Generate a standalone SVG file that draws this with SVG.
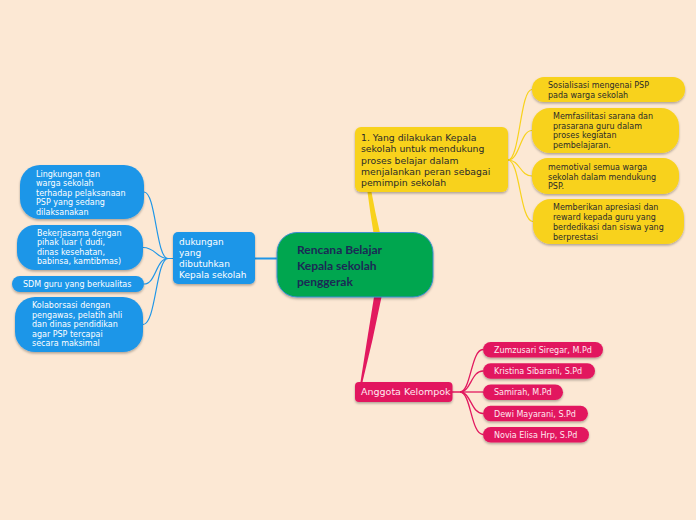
<svg xmlns="http://www.w3.org/2000/svg" width="696" height="520" viewBox="0 0 696 520">
<defs>
<filter id="sh" x="-10%" y="-20%" width="120%" height="150%">
<feDropShadow dx="0" dy="1.5" stdDeviation="1" flood-color="#000" flood-opacity="0.3"/>
</filter>
<style>
.y{fill:#F8D21C;filter:url(#sh)}
.b{fill:#1E96E8;filter:url(#sh)}
.p{fill:#E2195F;filter:url(#sh)}
.ty{font-family:"DejaVu Sans",sans-serif;fill:#2a2a2a}
.tb{font-family:"DejaVu Sans",sans-serif;fill:#ffffff}
.tp{font-family:"DejaVu Sans",sans-serif;fill:#ffe8f0}
.s8{font-size:8px}
.s9{font-size:9px}
.ly{fill:none;stroke:#F8D21C;stroke-width:1.2}
.lb{fill:none;stroke:#1E96E8;stroke-width:1.2}
.lp{fill:none;stroke:#E2195F;stroke-width:1.3}
</style>
</defs>
<rect width="696" height="520" fill="#FCE8D4"/>
<g id="connectors">
<path d="M367.5 192 L371.5 192 Q375 212 380 233 L373.5 233 Q370 212 367.5 192 Z" fill="#F8D21C"/>
<path d="M374 297 L381.5 297 Q373 340 362.5 382 L360.5 382 Q367 340 374 297 Z" fill="#E2195F"/>
<path d="M255 258.5 L278 258.5" fill="none" stroke="#1E96E8" stroke-width="2"/>
<path class="ly" d="M508 160 C520 160 520 89.5 532 89.5"/>
<path class="ly" d="M508 160 C520 160 520 130.5 532 130.5"/>
<path class="ly" d="M508 160 C520 160 520 176 532 176"/>
<path class="ly" d="M508 160 C520 160 520 221.5 533 221.5"/>
<path class="lb" d="M173 258.5 L168 258.5 C156 258.5 156 192 144 192"/>
<path class="lb" d="M168 258.5 C156 258.5 156 247.5 143 247.5"/>
<path class="lb" d="M168 258.5 C156 258.5 156 284 144 284"/>
<path class="lb" d="M168 258.5 C156 258.5 156 324.5 143 324.5"/>
<path class="lp" d="M452 392 L460 392 C471 392 471 349.5 483 349.5"/>
<path class="lp" d="M460 392 C471 392 471 371 483 371"/>
<path class="lp" d="M460 392 L483 392"/>
<path class="lp" d="M460 392 C471 392 471 413.5 483 413.5"/>
<path class="lp" d="M460 392 C471 392 471 434.5 483 434.5"/>
</g>
<g id="center">
<rect x="277" y="232.5" width="156" height="64.5" rx="20" fill="#00A650" stroke="#3b8fd0" stroke-width="1" filter="url(#sh)"/>
<text font-family="Lato,'Liberation Sans',sans-serif" font-size="12" font-weight="bold" fill="#1b2a55"><tspan x="297" y="254">Rencana Belajar</tspan><tspan x="297" y="270">Kepala sekolah</tspan><tspan x="297" y="285.5">penggerak</tspan></text>
</g>
<g id="yellow-main">
<rect class="y" x="355" y="127" width="153" height="65" rx="6"/>
<text class="ty" font-size="9.3"><tspan x="361" y="141">1. Yang dilakukan Kepala</tspan><tspan x="361" y="152.3">sekolah untuk mendukung</tspan><tspan x="361" y="163.6">proses belajar dalam</tspan><tspan x="361" y="174.9">menjalankan peran sebagai</tspan><tspan x="361" y="186.2">pemimpin sekolah</tspan></text>
</g>
<g id="yellow-1">
<rect class="y" x="532" y="77" width="153" height="25" rx="12"/>
<text class="ty s8"><tspan x="548" y="88.3">Sosialisasi mengenai PSP</tspan><tspan x="548" y="97.6">pada warga sekolah</tspan></text>
</g>
<g id="yellow-2">
<rect class="y" x="532" y="108" width="147" height="45" rx="18"/>
<text class="ty s8"><tspan x="553" y="119">Memfasilitasi sarana dan</tspan><tspan x="553" y="128.6">prasarana guru dalam</tspan><tspan x="553" y="138">proses kegiatan</tspan><tspan x="553" y="147.8">pembelajaran.</tspan></text>
</g>
<g id="yellow-3">
<rect class="y" x="532" y="158" width="147" height="36" rx="16"/>
<text class="ty s8"><tspan x="548" y="170">memotival semua warga</tspan><tspan x="548" y="179.5">sekolah dalam mendukung</tspan><tspan x="548" y="189">PSP.</tspan></text>
</g>
<g id="yellow-4">
<rect class="y" x="533" y="199" width="151" height="45" rx="18"/>
<text class="ty s8"><tspan x="553" y="210">Memberikan apresiasi dan</tspan><tspan x="553" y="220.2">reward kepada guru yang</tspan><tspan x="553" y="230.4">berdedikasi dan siswa yang</tspan><tspan x="553" y="240.4">berprestasi</tspan></text>
</g>
<g id="blue-main">
<rect class="b" x="173" y="232" width="82" height="52" rx="5"/>
<text class="tb s9"><tspan x="179" y="245">dukungan</tspan><tspan x="179" y="256.2">yang</tspan><tspan x="179" y="267.4">dibutuhkan</tspan><tspan x="179" y="278.4">Kepala sekolah</tspan></text>
</g>
<g id="blue-1">
<rect class="b" x="20" y="165" width="124" height="54" rx="20"/>
<text class="tb s8"><tspan x="36" y="176.5">Lingkungan dan</tspan><tspan x="36" y="186">warga sekolah</tspan><tspan x="36" y="195.5">terhadap pelaksanaan</tspan><tspan x="36" y="205">PSP yang sedang</tspan><tspan x="36" y="214.5">dilaksanakan</tspan></text>
</g>
<g id="blue-2">
<rect class="b" x="17" y="225" width="126" height="45" rx="18"/>
<text class="tb s8"><tspan x="37" y="236">Bekerjasama dengan</tspan><tspan x="37" y="245.3">pihak luar ( dudi,</tspan><tspan x="37" y="254.6">dinas kesehatan,</tspan><tspan x="37" y="264">babinsa, kamtibmas)</tspan></text>
</g>
<g id="blue-3">
<rect class="b" x="12" y="276" width="132" height="16" rx="8"/>
<text class="tb s8" x="23" y="287.3">SDM guru yang berkualitas</text>
</g>
<g id="blue-4">
<rect class="b" x="15" y="297" width="128" height="55" rx="20"/>
<text class="tb s8"><tspan x="32" y="308">Kolaborsasi dengan</tspan><tspan x="32" y="317.6">pengawas, pelatih ahli</tspan><tspan x="32" y="327.2">dan dinas pendidikan</tspan><tspan x="32" y="336.8">agar PSP tercapai</tspan><tspan x="32" y="346.4">secara maksimal</tspan></text>
</g>
<g id="pink-main">
<rect class="p" x="355" y="382" width="97.5" height="20" rx="4"/>
<text class="tp" font-size="9.5" x="361" y="395.3">Anggota Kelompok</text>
</g>
<g id="pink-1">
<rect class="p" x="483" y="342" width="120" height="15.5" rx="7.7"/>
<text class="tp s8" x="494" y="352.6">Zumzusari Siregar, M.Pd</text>
</g>
<g id="pink-2">
<rect class="p" x="483" y="363.3" width="112" height="15.5" rx="7.7"/>
<text class="tp s8" x="494" y="374">Kristina Sibarani, S.Pd</text>
</g>
<g id="pink-3">
<rect class="p" x="483" y="384.5" width="80" height="15.5" rx="7.7"/>
<text class="tp s8" x="494" y="395.2">Samirah, M.Pd</text>
</g>
<g id="pink-4">
<rect class="p" x="483" y="405.8" width="105" height="15.5" rx="7.7"/>
<text class="tp s8" x="494" y="416.5">Dewi Mayarani, S.Pd</text>
</g>
<g id="pink-5">
<rect class="p" x="483" y="427" width="106" height="15.5" rx="7.7"/>
<text class="tp s8" x="494" y="437.7">Novia Elisa Hrp, S.Pd</text>
</g>
</svg>
